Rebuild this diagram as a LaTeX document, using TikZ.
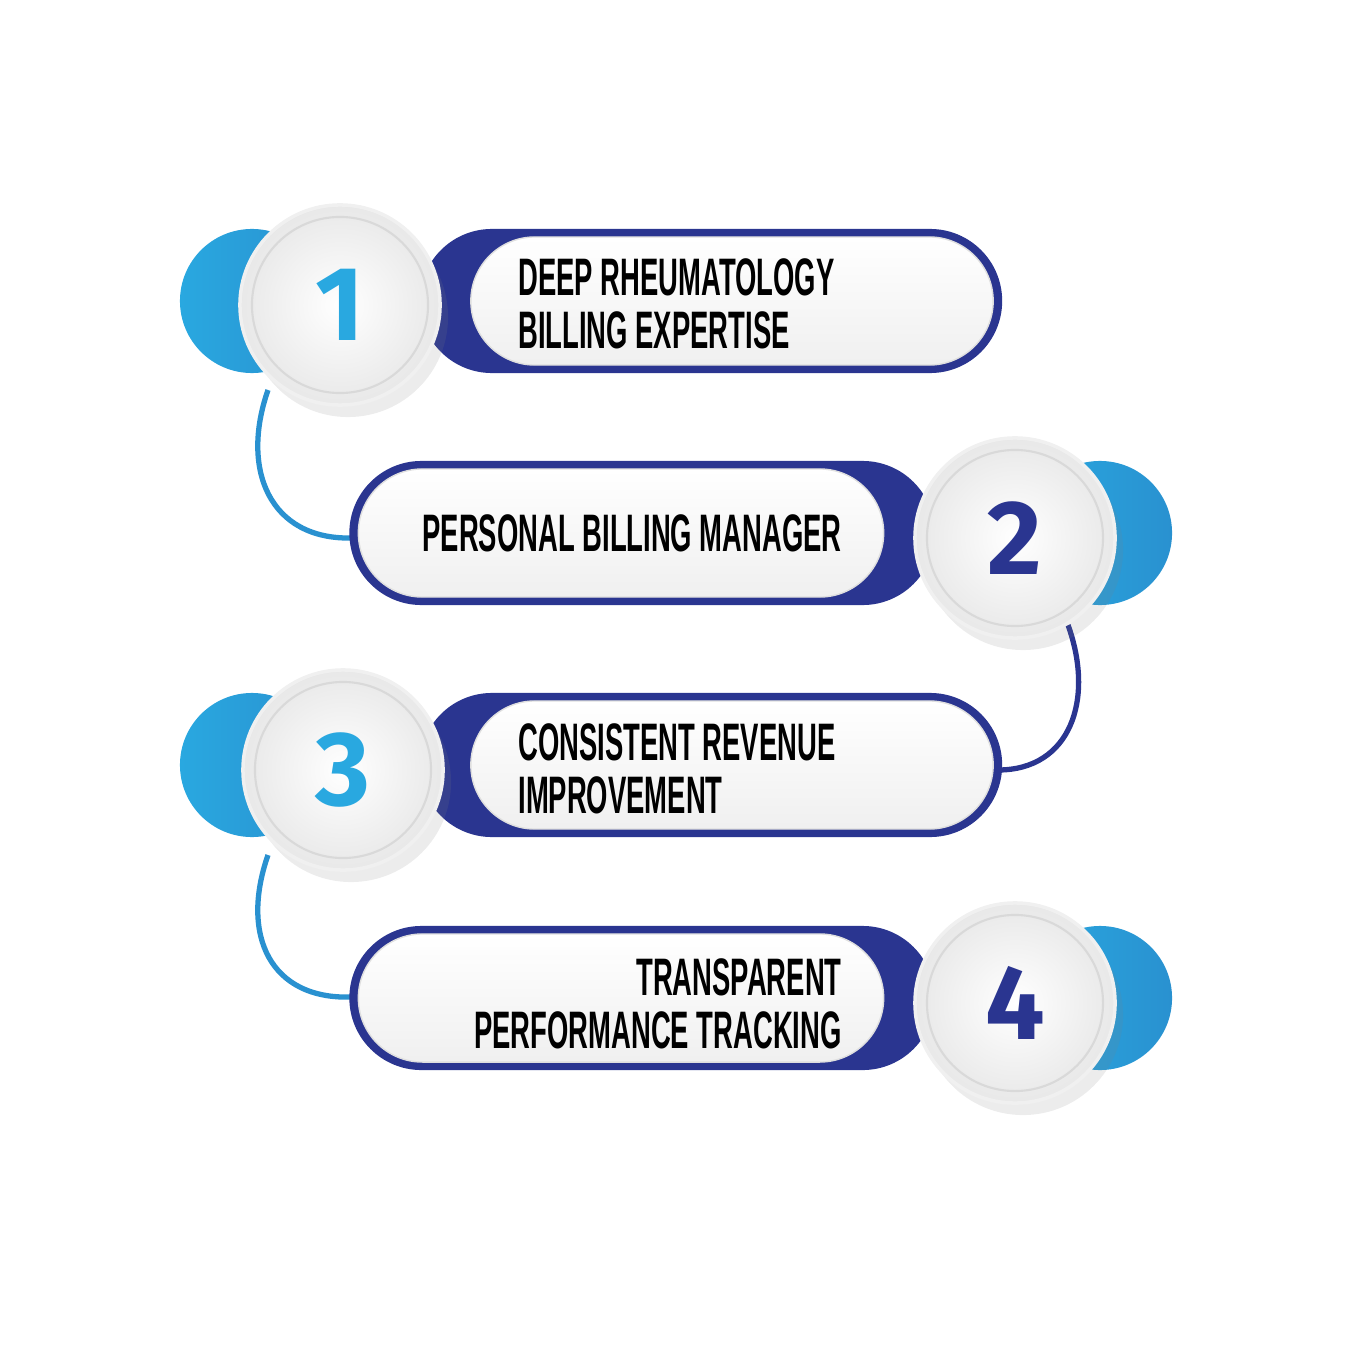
\documentclass[tikz,border=0pt]{standalone}
\usepackage{fontspec}
\setmainfont{Liberation Sans}
\newfontfamily\numfont{Fira Sans}
\usetikzlibrary{shapes.misc,shadows,positioning}
\definecolor{navy}{HTML}{2A3590}
\definecolor{skyblue}{HTML}{29A8E0}
\tikzset{
  pill/.style={rounded rectangle, fill=navy, minimum height=1.44cm, inner sep=0pt},
  pillin/.style={rounded rectangle, top color=white, bottom color=gray!12, draw=gray!25, minimum height=1.28cm, inner sep=0pt},
  endcap/.style={circle, minimum size=1.44cm, inner sep=0pt, left color=skyblue, right color=skyblue!80!navy},
  ball/.style={circle, minimum size=2cm, inner sep=0pt, inner color=white, outer color=gray!18, draw=gray!12, line width=1pt,
    drop shadow={shadow xshift=0.08cm, shadow yshift=-0.12cm, opacity=0.15, fill=gray}},
  ring/.style={circle, minimum size=1.76cm, inner sep=0pt, draw=gray!30, line width=0.6pt},
  num/.style={font=\numfont\bfseries\fontsize{30}{30}\selectfont},
  itemtext/.style={font=\bfseries\fontsize{15}{15}\selectfont, xscale=0.52, inner sep=0pt},
  link/.style={line width=1.5pt}
}
\begin{document}
\begin{tikzpicture}[x=0.01cm, y=-0.01cm]
\useasboundingbox (0,0) rectangle (1352,1352);
% links
\coordinate (l1) at (268,390);
\coordinate (l2) at (1068,625);
\coordinate (l3) at (268,855);
\draw[link, skyblue!80!navy] (l1) .. controls (240,470) and (270,540) .. (352,538);
\draw[link, navy] (l2) .. controls (1095,700) and (1070,770) .. (998,770);
\draw[link, skyblue!80!navy] (l3) .. controls (240,935) and (270,1000) .. (352,997);
% row 1
\node[endcap] (k1) at (252,301) {};
\node[pill, minimum width=5.82cm] (p1) at (711,301) {};
\node[pillin, minimum width=5.22cm] (q1) at (732,301) {};
\node[ball] (c1) at (340,305) {};
\node[ring] at (c1) {};
\node[num, skyblue] at (c1) {1};
\node[itemtext, anchor=north west, align=left] (t1) at (518,258) {DEEP RHEUMATOLOGY\\BILLING EXPERTISE};
% row 2
\node[endcap] (k2) at (1100,533) {};
\node[pill, minimum width=5.85cm] (p2) at (642,533) {};
\node[pillin, minimum width=5.25cm] (q2) at (621,533) {};
\node[ball] (c2) at (1015,538) {};
\node[ring] at (c2) {};
\node[num, navy] at (c2) {2};
\node[itemtext, anchor=east] (t2) at (842,533) {PERSONAL BILLING MANAGER};
% row 3
\node[endcap] (k3) at (252,765) {};
\node[pill, minimum width=5.82cm] (p3) at (711,765) {};
\node[pillin, minimum width=5.22cm] (q3) at (732,765) {};
\node[ball] (c3) at (343,770) {};
\node[ring] at (c3) {};
\node[num, skyblue] at (c3) {3};
\node[itemtext, anchor=north west, align=left] (t3) at (518,723) {CONSISTENT REVENUE\\IMPROVEMENT};
% row 4
\node[endcap] (k4) at (1100,998) {};
\node[pill, minimum width=5.85cm] (p4) at (642,998) {};
\node[pillin, minimum width=5.25cm] (q4) at (621,998) {};
\node[ball] (c4) at (1015,1003) {};
\node[ring] at (c4) {};
\node[num, navy] at (c4) {4};
\node[itemtext, anchor=north east, align=right] (t4) at (842,958) {TRANSPARENT\\PERFORMANCE TRACKING};
\end{tikzpicture}
\end{document}
